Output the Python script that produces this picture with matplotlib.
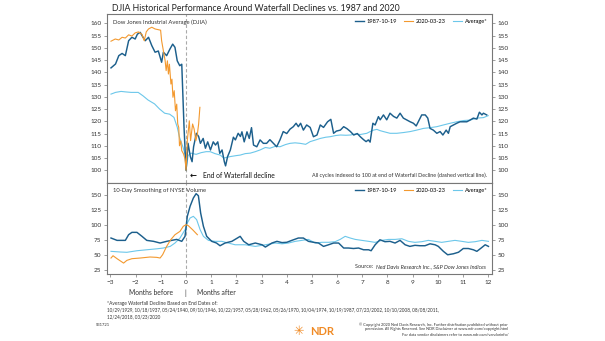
import matplotlib
matplotlib.use("Agg")
import matplotlib.pyplot as plt
from matplotlib.lines import Line2D

plt.rcParams['font.family'] = ['Lato', 'DejaVu Sans']

# ---------------- data ----------------
djia87_m = [-2.98, -2.8, -2.67, -2.54, -2.41, -2.28, -2.15, -2.02, -1.93, -1.82, -1.72, -1.62, -1.49, -1.36,
            -1.23, -1.1, -0.97, -0.9, -0.77, -0.64, -0.53, -0.44, -0.35, -0.25, -0.17, -0.12, -0.08, -0.02, 0.0,
            0.08, 0.17, 0.24, 0.3, 0.41, 0.5, 0.57, 0.68, 0.77, 0.86, 0.97, 1.08, 1.17, 1.26, 1.34, 1.43, 1.52,
            1.57, 1.65, 1.76, 1.88, 1.96, 2.07, 2.16, 2.22, 2.31, 2.42, 2.51, 2.6, 2.68, 2.81, 2.94, 3.07, 3.2,
            3.33, 3.47, 3.6, 3.73, 3.86, 4.0, 4.13, 4.26, 4.37, 4.46, 4.55, 4.66, 4.79, 4.93, 5.06, 5.2, 5.33,
            5.46, 5.62, 5.75, 5.86, 5.97, 6.13, 6.26, 6.39, 6.53, 6.66, 6.8, 6.92, 7.05, 7.15, 7.24, 7.31, 7.42,
            7.51, 7.64, 7.71, 7.84, 7.97, 8.1, 8.24, 8.37, 8.5, 8.63, 8.76, 8.9, 9.03, 9.14, 9.27, 9.36, 9.5,
            9.6, 9.69, 9.82, 9.96, 10.09, 10.2, 10.33, 10.42, 10.49, 10.62, 10.75, 10.88, 11.01, 11.15, 11.28,
            11.41, 11.55, 11.65, 11.75, 11.81, 11.94]
djia87_v = [141.8, 143.4, 146.8, 147.7, 146.8, 152.9, 154.3, 153.6, 155.6, 156.3, 154.5, 152.9, 154.3, 150.9,
            148.2, 148.7, 144.1, 148.2, 146.8, 149.5, 151.5, 150.2, 144.7, 142.7, 143.3, 128.4, 117.6, 103.9, 100.0,
            111.0, 105.6, 103.5, 109.6, 115.1, 113.8, 111.0, 113.0, 109.0, 111.6, 108.3, 111.6, 110.3, 111.6, 106.9,
            108.3, 103.5, 101.8, 105.6, 108.3, 113.5, 112.4, 115.1, 113.8, 115.7, 111.6, 115.7, 113.0, 117.4, 110.3,
            109.6, 112.4, 111.0, 111.0, 112.5, 111.0, 109.6, 112.4, 115.8, 115.0, 116.8, 117.8, 119.2, 117.8, 119.2,
            116.4, 118.5, 117.5, 113.7, 114.4, 118.5, 117.5, 119.8, 120.8, 115.1, 116.0, 116.4, 117.8, 117.0, 115.8,
            114.4, 115.0, 113.7, 112.5, 111.7, 112.4, 111.5, 119.2, 118.5, 121.9, 120.6, 122.6, 120.6, 123.3, 122.0,
            121.3, 123.3, 121.3, 120.6, 119.8, 119.2, 118.1, 120.8, 122.6, 122.6, 121.3, 117.1, 116.4, 115.1, 115.8,
            114.4, 116.4, 115.1, 117.8, 118.5, 119.2, 119.8, 119.8, 119.8, 120.5, 121.3, 120.9, 123.7, 122.6, 123.3,
            122.6]

djia20_m = [-2.98, -2.81, -2.67, -2.54, -2.41, -2.28, -2.15, -2.02, -1.89, -1.75, -1.66, -1.58, -1.49, -1.36,
            -1.23, -1.1, -1.01, -0.97, -0.9, -0.83, -0.79, -0.74, -0.7, -0.66, -0.6, -0.56, -0.52, -0.47, -0.42,
            -0.37, -0.33, -0.29, -0.26, -0.21, -0.17, -0.1, -0.04, 0.0, 0.05, 0.13, 0.18, 0.26, 0.32, 0.39, 0.45,
            0.5, 0.55]
djia20_v = [152.7, 153.6, 153.2, 154.3, 154.0, 155.3, 154.8, 156.1, 156.5, 155.5, 152.9, 156.5, 157.7, 158.4,
            157.7, 157.4, 157.2, 152.9, 148.8, 144.7, 140.7, 144.7, 139.3, 143.3, 135.2, 137.2, 129.8, 132.5, 124.3,
            127.0, 118.9, 117.5, 110.0, 112.0, 108.0, 106.7, 104.6, 100.0, 112.1, 120.2, 112.1, 118.9, 116.9, 112.1,
            114.8, 118.9, 125.7]

djia_avg_m = [-2.98, -2.8, -2.58, -2.4, -2.18, -1.9, -1.71, -1.51, -1.25, -1.05, -0.85, -0.65, -0.48, -0.35,
              -0.26, -0.12, -0.04, 0.0, 0.08, 0.2, 0.4, 0.6, 0.8, 0.96, 1.15, 1.36, 1.5, 1.76, 2.0, 2.15, 2.35,
              2.55, 2.75, 2.94, 3.15, 3.33, 3.55, 3.73, 3.95, 4.13, 4.33, 4.53, 4.75, 4.93, 5.15, 5.33, 5.55,
              5.72, 5.95, 6.13, 6.35, 6.53, 6.72, 6.92, 7.18, 7.31, 7.45, 7.58, 7.7, 7.84, 8.1, 8.37, 8.63, 8.9,
              9.16, 9.43, 9.69, 9.96, 10.22, 10.49, 10.75, 11.01, 11.28, 11.55, 11.81, 12.0]
djia_avg_v = [131.1, 131.8, 132.2, 132.0, 131.8, 131.8, 130.4, 128.7, 127.1, 125.0, 123.3, 122.9, 121.6, 117.6,
              113.5, 109.4, 106.5, 100.0, 106.0, 107.0, 106.5, 107.2, 107.6, 107.6, 106.8, 106.2, 105.0, 105.6,
              106.0, 106.2, 106.8, 107.0, 107.6, 108.3, 109.3, 109.0, 109.8, 109.6, 110.5, 111.0, 111.2, 111.0,
              110.6, 111.7, 112.4, 113.0, 113.5, 113.7, 114.2, 114.4, 114.3, 114.4, 114.8, 114.6, 115.1, 115.8,
              116.4, 116.7, 116.2, 115.8, 115.1, 115.1, 115.4, 115.8, 116.4, 117.1, 117.4, 117.8, 118.5, 119.2,
              119.8, 120.3, 120.5, 121.3, 121.5, 122.3]

vol87_m = [-2.98, -2.74, -2.41, -2.28, -2.15, -1.95, -1.75, -1.56, -1.29, -1.03, -0.77, -0.57, -0.37, -0.17,
           -0.04, 0.05, 0.16, 0.29, 0.4, 0.49, 0.58, 0.69, 0.82, 1.02, 1.21, 1.35, 1.55, 1.82, 2.15, 2.29, 2.49,
           2.75, 3.02, 3.15, 3.41, 3.61, 3.81, 4.0, 4.2, 4.46, 4.66, 4.86, 5.06, 5.26, 5.46, 5.66, 5.86, 6.06,
           6.26, 6.45, 6.65, 6.85, 7.05, 7.25, 7.35, 7.51, 7.7, 7.9, 8.1, 8.3, 8.5, 8.7, 8.89, 9.09, 9.29, 9.49,
           9.69, 9.89, 10.02, 10.22, 10.39, 10.62, 10.82, 11.01, 11.21, 11.41, 11.55, 11.72, 11.88, 12.01]
vol87_v = [78.1, 74.2, 74.2, 83.6, 87.5, 87.5, 80.9, 74.2, 72.6, 69.8, 72.6, 74.2, 75.8, 72.6,
           80.9, 114.1, 130.7, 144.5, 151.7, 148.3, 119.6, 97.5, 80.9, 72.6, 69.8, 65.3, 69.8, 72.6, 80.9, 72.6,
           66.9, 69.8, 66.9, 63.1, 69.8, 72.6, 70.5, 71.0, 74.2, 78.1, 78.1, 72.6, 71.0, 69.8, 64.2, 66.9, 69.8,
           69.8, 61.5, 61.5, 60.7, 61.5, 58.6, 58.6, 57.0, 66.9, 75.2, 72.0, 72.6, 69.8, 74.2, 66.9, 64.2, 66.0,
           65.3, 65.3, 68.5, 66.9, 64.2, 56.0, 50.3, 52.0, 54.5, 60.7, 60.7, 58.6, 56.0, 61.5, 66.9, 64.2]

vol20_m = [-2.98, -2.9, -2.74, -2.48, -2.35, -2.15, -1.82, -1.43, -1.16, -1.03, -0.93, -0.77, -0.61, -0.44,
           -0.24, -0.11, 0.0, 0.09, 0.26, 0.45]
vol20_v = [44.9, 48.7, 43.8, 36.5, 41.0, 43.8, 44.9, 46.6, 46.0, 44.9, 50.4, 64.2, 75.2, 83.6, 89.2, 97.5,
           100.3, 98.6, 91.9, 83.6]

vol_avg_m = [-2.98, -2.61, -2.35, -1.95, -1.56, -1.16, -0.9, -0.63, -0.44, -0.24, -0.04, 0.05, 0.16, 0.29,
             0.42, 0.56, 0.69, 0.89, 1.15, 1.42, 1.68, 1.95, 2.35, 2.75, 3.15, 3.55, 3.81, 4.07, 4.34, 4.6, 4.86,
             5.13, 5.39, 5.66, 5.92, 6.12, 6.32, 6.52, 6.72, 6.98, 7.25, 7.51, 7.77, 8.04, 8.3, 8.57, 8.83, 9.09,
             9.36, 9.62, 9.89, 10.15, 10.42, 10.68, 10.95, 11.21, 11.48, 11.75, 12.01]
vol_avg_v = [56.0, 54.9, 54.4, 57.0, 58.6, 60.2, 61.5, 64.2, 69.8, 78.1, 91.9, 103.0, 111.3, 114.1,
             108.7, 91.9, 80.9, 74.2, 72.6, 72.6, 69.8, 66.9, 66.9, 64.2, 66.9, 69.8, 68.5, 69.8, 72.6, 74.2, 75.8,
             69.8, 71.0, 71.0, 72.0, 75.8, 80.9, 78.1, 75.8, 74.2, 72.6, 70.9, 74.2, 75.8, 75.8, 76.9, 72.6, 70.9,
             72.0, 74.2, 72.6, 70.9, 72.6, 74.2, 72.6, 70.9, 72.0, 74.2, 72.6]

series_labels = ['1987-10-19', '2020-03-23', 'Average*']
top_yticks = list(range(100, 165, 5))
bot_yticks = [25, 50, 75, 100, 125, 150]
x_ticks = list(range(-3, 13))

# ---------------- style ----------------
C87 = '#1c5f8c'
C20 = '#f3992f'
CAVG = '#6cc7ea'
SPINE = '#777777'
TXT = '#333333'

fig = plt.figure(figsize=(6.05, 3.41), dpi=100)
ax1 = fig.add_axes([0.1764, 0.4633, 0.6368, 0.4956])
ax2 = fig.add_axes([0.1764, 0.1965, 0.6368, 0.2668], sharex=ax1)

ax1.plot(djia_avg_m, djia_avg_v, color=CAVG, lw=0.8, zorder=2, label=series_labels[2])
ax1.plot(djia87_m, djia87_v, color=C87, lw=1.05, zorder=3, label=series_labels[0])
ax1.plot(djia20_m, djia20_v, color=C20, lw=0.8, zorder=4, label=series_labels[1])

ax2.plot(vol_avg_m, vol_avg_v, color=CAVG, lw=0.8, zorder=2, label=series_labels[2])
ax2.plot(vol87_m, vol87_v, color=C87, lw=1.05, zorder=3, label=series_labels[0])
ax2.plot(vol20_m, vol20_v, color=C20, lw=0.8, zorder=4, label=series_labels[1])

for ax in (ax1, ax2):
    ax.axvline(0, color='#aaaaaa', lw=0.8, ls=(0, (3, 2)), zorder=1)
    for s in ax.spines.values():
        s.set_color(SPINE)
        s.set_linewidth(0.8)
    ax.tick_params(axis='y', which='both', left=True, right=True, labelleft=True, labelright=True,
                   length=2, width=0.5, color=SPINE, labelsize=4.6, labelcolor=TXT, pad=2)
    handles = [Line2D([], [], color=C87, lw=1.0), Line2D([], [], color=C20, lw=0.8),
               Line2D([], [], color=CAVG, lw=0.8)]
    ax.legend(handles, series_labels, loc='upper right', ncol=3, frameon=False, fontsize=4.1,
              handlelength=1.6, columnspacing=1.2, handletextpad=0.5, borderaxespad=0.4)

ax1.set_xlim(-3.15, 12.15)
ax1.set_ylim(94.8, 163.8)
ax1.set_yticks(top_yticks)
ax1.tick_params(axis='x', bottom=False, labelbottom=False)

ax2.set_ylim(18.4, 169.4)
ax2.set_yticks(bot_yticks)
ax2.set_xticks(x_ticks)
ax2.tick_params(axis='x', length=2, width=0.5, color=SPINE, labelsize=4.6, labelcolor=TXT, pad=2)

# panel texts
ax1.text(0.015, 0.965, 'Dow Jones Industrial Average (DJIA)', transform=ax1.transAxes, fontsize=4.2,
         color=TXT, va='top', ha='left')
ax1.text(0.988, 0.045, 'All cycles indexed to 100 at end of Waterfall Decline (dashed vertical line).',
         transform=ax1.transAxes, fontsize=3.9, color=TXT, va='center', ha='right')
ax1.text(0.215, 0.045, '\u2190', transform=ax1.transAxes, fontsize=6, fontweight='bold',
         color='#111111', va='center', ha='left', family=['DejaVu Sans'])
ax1.text(0.25, 0.045, 'End of Waterfall decline', transform=ax1.transAxes, fontsize=4.9,
         color='#111111', va='center', ha='left')

ax2.text(0.015, 0.94, '10-Day Smoothing of NYSE Volume', transform=ax2.transAxes, fontsize=4.2,
         color=TXT, va='top', ha='left')
src = ax2.text(0.985, 0.05, 'Ned Davis Research Inc., S&P Dow Jones Indices', transform=ax2.transAxes,
               fontsize=4.0, color=TXT, va='bottom', ha='right', style='italic')
ax2.annotate('Source:  ', xy=(0, 0), xycoords=src, fontsize=4.0, color=TXT, va='bottom', ha='right')

# figure texts
fig.text(0.185, 0.976, 'DJIA Historical Performance Around Waterfall Declines vs. 1987 and 2020',
         fontsize=6.3, color='#222222', va='center', ha='left')
fig.text(0.249, 0.141, 'Months before', fontsize=4.9, color=TXT, va='center', ha='center')
fig.text(0.307, 0.141, '|', fontsize=4.9, color=TXT, va='center', ha='center')
fig.text(0.358, 0.141, 'Months after', fontsize=4.9, color=TXT, va='center', ha='center')

fig.text(0.177, 0.111, '*Average Waterfall Decline Based on End Dates of:', fontsize=3.5, color=TXT,
         va='center', ha='left')
fig.text(0.177, 0.091, '10/29/1929, 10/18/1937, 05/24/1940, 09/10/1946, 10/22/1957, 05/28/1962, 05/26/1970, '
         '10/04/1974, 10/19/1987, 07/23/2002, 10/10/2008, 08/08/2011,', fontsize=3.3, color=TXT,
         va='center', ha='left')
fig.text(0.177, 0.070, '12/24/2018, 03/23/2020', fontsize=3.3, color=TXT, va='center', ha='left')
fig.text(0.159, 0.048, 'S31721', fontsize=3.0, color=TXT, va='center', ha='left')

fig.text(0.553, 0.027, 'NDR', fontsize=8, fontweight='bold', color='#f08a24', va='center', ha='right')
fig.text(0.493, 0.027, '\u2733', fontsize=9, color='#f08a24', va='center', ha='center',
         family=['DejaVu Sans'])
fig.text(0.84, 0.048, '\u00a9 Copyright 2020 Ned Davis Research, Inc. Further distribution prohibited without prior',
         fontsize=2.8, color=TXT, va='center', ha='right')
fig.text(0.84, 0.034, 'permission. All Rights Reserved. See NDR Disclaimer at www.ndr.com/copyright.html',
         fontsize=2.8, color=TXT, va='center', ha='right')
fig.text(0.84, 0.019, 'For data vendor disclaimers refer to www.ndr.com/vendorinfo/',
         fontsize=2.8, color=TXT, va='center', ha='right')

fig.savefig('out.png', dpi=100)
